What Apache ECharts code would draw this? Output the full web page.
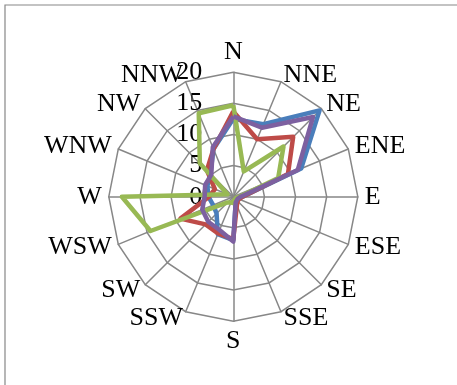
<!DOCTYPE html>
<html>
<head>
<meta charset="utf-8">
<script src="https://cdn.jsdelivr.net/npm/echarts@6/dist/echarts.min.js"></script>
<style>
  html, body { margin: 0; padding: 0; background: #ffffff; }
  #chart { width: 457px; height: 385px; }
</style>
</head>
<body>
<div id="chart"></div>
<script>
// Compass sectors, listed clockwise from north
const directions = ['N', 'NNE', 'NE', 'ENE', 'E', 'ESE', 'SE', 'SSE', 'S', 'SSW', 'SW', 'WSW', 'W', 'WNW', 'NW', 'NNW'];

// Frequency per sector for each of the four series (same order as directions)
const seriesBlue   = [12.5, 12.6, 19.6, 11.8, 1.5, 0.8, 0.8, 1.0, 7.0, 6.5, 3.8, 3.5, 4.0, 4.5, 5.2, 8.3];
const seriesRed    = [13.7, 10.0, 13.6,  9.5, 1.5, 1.0, 1.0, 1.5, 6.8, 6.4, 6.3, 9.2, 3.9, 3.2, 6.0, 8.3];
const seriesGreen  = [14.7,  4.4, 11.4,  7.8, 1.0, 0.5, 0.5, 0.5, 1.0, 1.0, 1.3, 14.4, 17.9, 1.0, 7.6, 14.5];
const seriesPurple = [12.9, 12.0, 18.1, 11.2, 1.2, 0.8, 0.8, 1.0, 7.2, 5.8, 5.7, 5.4, 4.6, 4.9, 5.0, 8.6];

// Radial scale: 0..20 in steps of 5
const scaleMin = 0;
const scaleMax = 20;
const ringCount = 4;

const seriesColors = ['#4A7EBB', '#BE4B48', '#98B954', '#7D60A0'];
const gridColor = '#878787';
const textFont = '"Liberation Serif", "Times New Roman", serif';
const textSize = 26;

// Radar indicators run counter-clockwise, so walk the compass backwards from N
const order = directions.map((d, i) => (directions.length - i) % directions.length);
const reorder = arr => order.map(k => arr[k]);

const indicators = order.map((k, i) => {
  const ind = { name: directions[k], min: scaleMin, max: scaleMax };
  if (i === 0) {
    // tick values are printed along the north spoke only
    ind.axisLabel = {
      show: true,
      color: '#000',
      fontSize: textSize,
      fontFamily: textFont,
      margin: 31
    };
  }
  return ind;
});

const chart = echarts.init(document.getElementById('chart'), null, { renderer: 'canvas' });

chart.setOption({
  backgroundColor: '#ffffff',
  animation: false,
  graphic: [{
    type: 'rect',
    shape: { x: 5, y: 5, width: 470, height: 400 },
    style: { fill: 'none', stroke: gridColor, lineWidth: 1.2 },
    silent: true
  }],
  radar: {
    center: [233.3, 196.7],
    radius: 124.5,
    startAngle: 90,
    shape: 'polygon',
    splitNumber: ringCount,
    nameGap: 7,
    axisName: {
      color: '#000',
      fontSize: textSize,
      fontFamily: textFont
    },
    axisLine: { lineStyle: { color: gridColor, width: 1.5 } },
    splitLine: { lineStyle: { color: gridColor, width: 1.5 } },
    splitArea: { show: false },
    axisTick: { show: false },
    axisLabel: { show: false },
    indicator: indicators
  },
  series: [{
    type: 'radar',
    symbol: 'none',
    data: [seriesBlue, seriesRed, seriesGreen, seriesPurple].map((vals, i) => ({
      value: reorder(vals),
      lineStyle: { color: seriesColors[i], width: 4.5 },
      itemStyle: { color: seriesColors[i] }
    }))
  }]
});
</script>
</body>
</html>
